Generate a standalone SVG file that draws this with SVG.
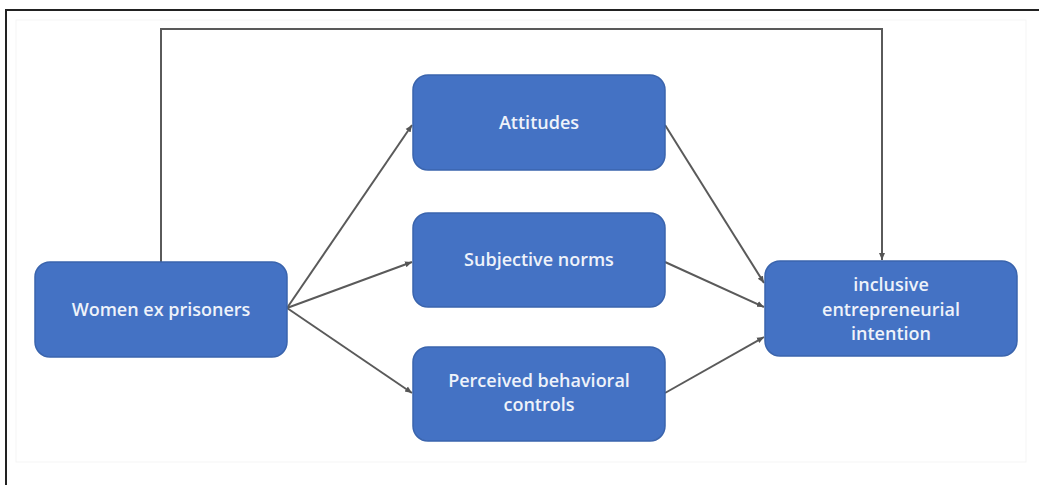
<svg xmlns="http://www.w3.org/2000/svg" width="1039" height="485" viewBox="0 0 1039 485">
<defs>
<marker id="ah" markerWidth="8" markerHeight="8" refX="7" refY="4" orient="auto" markerUnits="userSpaceOnUse">
<path d="M0,1 L7,4 L0,7 z" fill="#555"/>
</marker>
<style>
.node rect{fill:#4472c4;stroke:#3a64ad;stroke-width:1.5}
.node text{font-family:"Open Sans","Liberation Sans",sans-serif;font-weight:600;font-size:18px;fill:#eef2fa;text-anchor:middle}
.conn{fill:none;stroke:#5a5a5a;stroke-width:2;marker-end:url(#ah)}
</style>
</defs>
<rect x="0" y="0" width="1039" height="485" fill="#fff"/>
<path d="M6,485 V10 H1039" fill="none" stroke="#222" stroke-width="2"/>
<rect x="16" y="20" width="1010" height="442" fill="none" stroke="#f5f5f5" stroke-width="1"/>
<g id="connectors">
<path class="conn" d="M161,262 V29 H882 V260" stroke="#808080"/>
<line class="conn" x1="287" y1="308" x2="412" y2="125"/>
<line class="conn" x1="287" y1="308" x2="412" y2="262"/>
<line class="conn" x1="287" y1="308" x2="412" y2="393"/>
<line class="conn" x1="665" y1="125" x2="764" y2="283"/>
<line class="conn" x1="665" y1="262" x2="764" y2="307"/>
<line class="conn" x1="665" y1="393" x2="764" y2="337"/>
</g>
<g id="n_women" class="node">
<rect x="35" y="262" width="252" height="95" rx="15"/>
<text x="161" y="316">Women ex prisoners</text>
</g>
<g id="n_attitudes" class="node">
<rect x="413" y="75" width="252" height="95" rx="15"/>
<text x="539" y="129">Attitudes</text>
</g>
<g id="n_subjective" class="node">
<rect x="413" y="213" width="252" height="94" rx="15"/>
<text x="539" y="266">Subjective norms</text>
</g>
<g id="n_perceived" class="node">
<rect x="413" y="347" width="252" height="94" rx="15"/>
<text x="539" y="387">Perceived behavioral</text>
<text x="539" y="411">controls</text>
</g>
<g id="n_intention" class="node">
<rect x="765" y="261" width="252" height="95" rx="15"/>
<text x="891" y="291">inclusive</text>
<text x="891" y="316">entrepreneurial</text>
<text x="891" y="340">intention</text>
</g>
</svg>
